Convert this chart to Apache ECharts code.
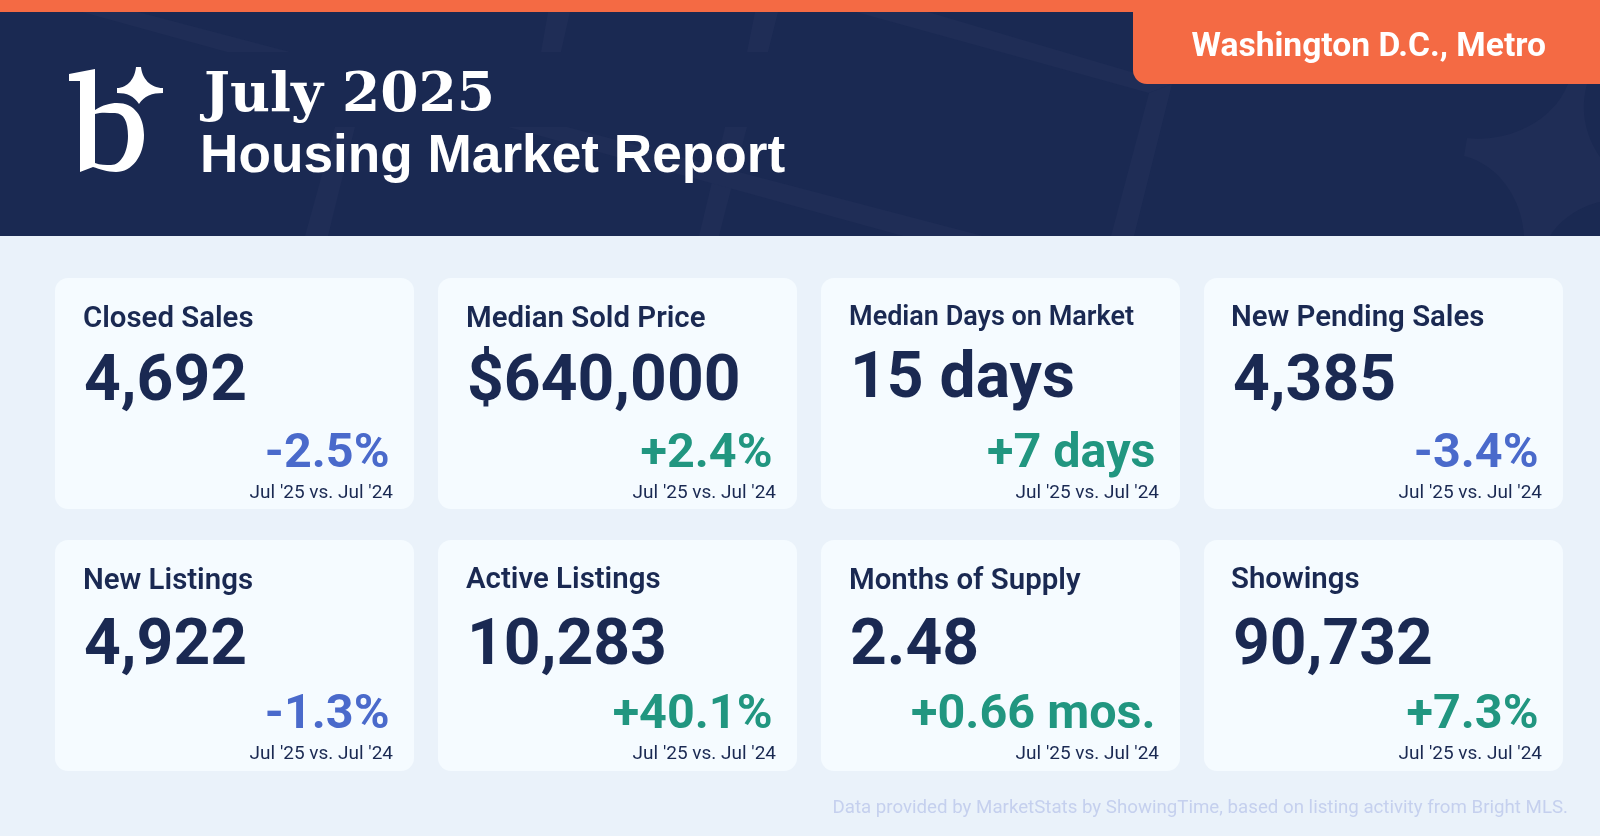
<!DOCTYPE html>
<html>
<head>
<meta charset="utf-8">
<style>
  html, body { margin: 0; padding: 0; background: #eaf2fa; }
  #chart { width: 1600px; height: 836px; }
</style>
<script src="https://cdn.jsdelivr.net/npm/echarts@6/dist/echarts.min.js"></script>
</head>
<body>
<div id="chart"></div>
<script>
const reportMonth = 'July 2025';
const reportTitle = 'Housing Market Report';
const regionName = 'Washington D.C., Metro';
const footnote = 'Data provided by MarketStats by ShowingTime, based on listing activity from Bright MLS.';

const metricNames = ['Closed Sales', 'Median Sold Price', 'Median Days on Market', 'New Pending Sales', 'New Listings', 'Active Listings', 'Months of Supply', 'Showings'];
const metricValues = ['4,692', '$640,000', '15 days', '4,385', '4,922', '10,283', '2.48', '90,732'];
const metricChanges = ['-2.5%', '+2.4%', '+7 days', '-3.4%', '-1.3%', '+40.1%', '+0.66 mos.', '+7.3%'];
const comparePeriods = ["Jul '25 vs. Jul '24", "Jul '25 vs. Jul '24", "Jul '25 vs. Jul '24", "Jul '25 vs. Jul '24", "Jul '25 vs. Jul '24", "Jul '25 vs. Jul '24", "Jul '25 vs. Jul '24", "Jul '25 vs. Jul '24"];

const NAVY = '#1a2952';
const ORANGE = '#f46a44';
const GREEN = '#219680';
const BLUE = '#4a6acb';
const STRIPE = '#1f2d56';

// card boxes, left to right then the second row
const cardLeft = [55, 438, 821, 1204];
const cardTop = [278, 540];
const cardW = 359;
const cardH = 231;
// the cards in the picture are not quite aligned with each other
const titleNudge = [1, 1, -1, 0, 1, 0, 1, 0];
const valueNudge = [0, 0, -3, 0, 2, 2, 2, 2];
const changeNudge = [0, 0, 0, 0, -1, -1, -1, -1];
const periodNudge = [1, 1, 1, 1, 0, 0, 0, 0];
const titleSize = [29.4, 29.4, 27, 29.4, 29.4, 29.4, 29.4, 29.4];

// graphic has no plain path type, so the curved shapes get registered
const registerPath = (name, d) => {
  echarts.graphic.registerShape(name, echarts.graphic.extendPath(d, {}));
  return name;
};
registerPath('logoB', 'M69 74 L95 69 L95 110 C103 105 110 103 117 103 C134 103 144 116 144 135 C144 156 132 172 116 172 C107 172 100 169 93 167 L80 172 L80 81 L69 81 Z M95 114 L95 163 C100 165 106 165 111 165 C121 165 128 152 128 136 C128 122 124 113 115 113 C108 113 101 112 95 114 Z');
registerPath('logoStar', 'M136 67 L141 67 C142 78 150 88 163 88 L163 93 C152 93 144 96 139 104 C134 96 127 93 117 93 L117 88 C128 88 135 78 136 67 Z');
registerPath('bgStar', 'M1467 138 C1500 142 1550 128 1568 84 L1587 84 C1580 110 1585 135 1600 157 L1600 202 C1580 206 1560 220 1550 236 L1524 236 C1522 200 1500 165 1464 156 Z');

const chart = echarts.init(document.getElementById('chart'));

// y is the text baseline; zrender only knows top/middle/bottom so shift by the ascent
const text = (x, y, str, size, weight, fill, align, family, ascent) => ({
  type: 'text',
  x,
  y: y - Math.round(size * (ascent || 0.77)),
  silent: true,
  style: {
    text: str,
    fontFamily: family || 'Roboto',
    fontSize: size,
    fontWeight: weight,
    fill,
    align: align || 'left',
    verticalAlign: 'top',
  },
});

const stripe = (points) => ({
  type: 'polygon',
  shape: { points },
  style: { fill: STRIPE },
  silent: true,
});

const elements = [
  { type: 'rect', shape: { x: 0, y: 0, width: 1600, height: 836 }, style: { fill: '#eaf2fa' }, silent: true },
  { type: 'rect', shape: { x: 0, y: 0, width: 1600, height: 236 }, style: { fill: NAVY }, silent: true },
  // faint background shapes
  stripe([[82, 12], [138, 12], [290, 52], [227, 52]]),
  stripe([[548, 12], [570, 12], [561, 52], [541, 52]]),
  stripe([[755, 12], [778, 12], [768, 52], [747, 52]]),
  stripe([[856, 12], [928, 12], [1172, 84], [1149, 93]]),
  stripe([[1149, 93], [1172, 84], [1134, 236], [1111, 236]]),
  stripe([[335, 127], [355, 127], [328, 236], [305, 236]]),
  stripe([[725, 127], [747, 127], [719, 236], [699, 236]]),
  stripe([[508, 127], [567, 127], [983, 236], [903, 236]]),
  { type: 'logoStar', style: { fill: '#fff' }, silent: true },
  { type: 'bgStar', style: { fill: STRIPE }, silent: true },
  { type: 'rect', shape: { x: 0, y: 0, width: 1600, height: 12 }, style: { fill: ORANGE }, silent: true },
  { type: 'rect', shape: { x: 1133, y: 0, width: 467, height: 84, r: [0, 0, 0, 14] }, style: { fill: ORANGE }, silent: true },
  text(1546, 57, regionName, 33.6, 700, '#fff', 'right'),
  { type: 'logoB', style: { fill: '#fff' }, silent: true },
  text(204, 111, reportMonth, 55, 700, '#fff', 'left', 'DejaVu Serif'),
  text(200, 173, reportTitle, 53.2, 700, '#fff', 'left', 'Liberation Sans', 0.79),
];

metricNames.forEach((name, i) => {
  const x = cardLeft[i % 4];
  const y = cardTop[Math.floor(i / 4)];
  elements.push(
    { type: 'rect', shape: { x, y, width: cardW, height: cardH, r: 13 }, style: { fill: '#f5fbff' }, silent: true },
    text(x + (i % 4 === 3 ? 27 : 28), y + 49 + titleNudge[i], name, titleSize[i], 600, NAVY),
    text(x + 29, y + 123 + valueNudge[i], metricValues[i], 64.2, 700, NAVY),
    text(x + 334.5, y + 189 + changeNudge[i], metricChanges[i], 48.5, 700, metricChanges[i][0] === '+' ? GREEN : BLUE, 'right'),
    text(x + 338, y + 220 + periodNudge[i], comparePeriods[i], 19, 400, NAVY, 'right')
  );
});

elements.push(text(1568, 813, footnote, 18.7, 400, '#c5d0ee', 'right'));

chart.setOption({
  animation: false,
  graphic: { elements },
});
</script>
</body>
</html>
